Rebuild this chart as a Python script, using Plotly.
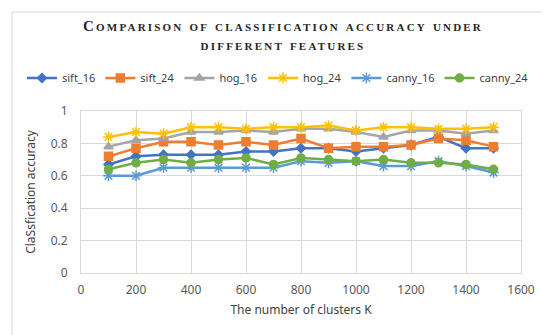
import plotly.graph_objects as go

K = [100, 200, 300, 400, 500, 600, 700, 800, 900, 1000, 1100, 1200, 1300, 1400, 1500]
sift_16 = [0.67, 0.72, 0.73, 0.73, 0.73, 0.75, 0.75, 0.77, 0.77, 0.75, 0.77, 0.79, 0.84, 0.77, 0.77]
sift_24 = [0.72, 0.77, 0.81, 0.81, 0.79, 0.81, 0.79, 0.83, 0.77, 0.78, 0.78, 0.79, 0.83, 0.82, 0.78]
hog_16 = [0.78, 0.82, 0.83, 0.87, 0.87, 0.88, 0.87, 0.89, 0.89, 0.87, 0.84, 0.88, 0.88, 0.86, 0.88]
hog_24 = [0.84, 0.87, 0.86, 0.90, 0.90, 0.89, 0.90, 0.90, 0.91, 0.88, 0.90, 0.90, 0.89, 0.89, 0.90]
canny_16 = [0.60, 0.60, 0.65, 0.65, 0.65, 0.65, 0.65, 0.69, 0.68, 0.69, 0.66, 0.66, 0.69, 0.66, 0.62]
canny_24 = [0.64, 0.68, 0.70, 0.68, 0.70, 0.71, 0.67, 0.71, 0.70, 0.69, 0.70, 0.68, 0.68, 0.67, 0.64]

series = [
    ("sift_16", sift_16, "#4472C4", "diamond", 7, "legend"),
    ("sift_24", sift_24, "#ED7D31", "square", 8, "legend"),
    ("hog_16", hog_16, "#A5A5A5", "triangle-up", 8, "legend"),
    ("hog_24", hog_24, "#FFC000", "asterisk-open", 9, "legend2"),
    ("canny_16", canny_16, "#5B9BD5", "asterisk-open", 9, "legend2"),
    ("canny_24", canny_24, "#70AD47", "circle", 8, "legend2"),
]

fig = go.Figure()
for name, vals, color, sym, size, lg in series:
    fig.add_trace(go.Scatter(
        x=K, y=vals, name=name, mode="lines+markers", legend=lg,
        line=dict(color=color, width=2.5),
        marker=dict(symbol=sym, size=size, color=color,
                    line=dict(color=color, width=1.5)),
    ))

def small_caps(text, big=15, small=11):
    out = []
    for word in text.split(" "):
        out.append(f"<span style='font-size:{big}px'>{word[0]}</span>"
                   f"<span style='font-size:{small}px'>{word[1:].upper()}</span>"
                   if word[0].isupper() else
                   f"<span style='font-size:{small}px'>{word.upper()}</span>")
    return " ".join(out)

title_text = ("<span style='letter-spacing:2.2px'>"
              + small_caps("Comparison of classification accuracy under")
              + "<br>" + small_caps("different features") + "</span>")

W, L, R, T, B = 550, 73, 37, 103, 70
PW = W - L - R
PH = 335 - T - B

def px_x(p):
    return (p - L) / PW

def px_y(p):
    return (335 - B - p) / PH

grid = "#D9D9D9"
legend_style = dict(orientation="h", xanchor="left", yanchor="middle",
                    font=dict(size=11, color="#404040"), itemwidth=30,
                    bgcolor="rgba(0,0,0,0)")
fig.update_layout(
    width=W, height=335,
    margin=dict(l=L, r=R, t=T, b=B, autoexpand=False),
    paper_bgcolor="white", plot_bgcolor="white",
    title=dict(text=title_text, x=0.5, xanchor="center", y=0.932, yanchor="top",
               font=dict(family="Liberation Serif", size=15, color="#262626", weight="bold")),
    font=dict(family="Noto Sans", size=12, color="#595959"),
    legend=dict(x=px_x(14), y=px_y(70), **legend_style),
    legend2=dict(x=px_x(14 + 241), y=px_y(70), **legend_style),
    showlegend=True,
)
fig.update_xaxes(range=[0, 1600], dtick=200, tick0=0, showgrid=True, gridcolor=grid,
                 showline=True, linecolor=grid, mirror=True, zeroline=False,
                 ticks="", ticklabelstandoff=6,
                 title=dict(text="The number of clusters K", standoff=8,
                            font=dict(size=12, color="#404040")))
fig.update_yaxes(range=[0, 1], dtick=0.2, tick0=0, showgrid=True, gridcolor=grid,
                 showline=True, linecolor=grid, mirror=True, zeroline=False,
                 ticks="", tickformat="~g", ticklabelstandoff=10,
                 title=dict(text="ClaSsfication accuracy", standoff=12,
                            font=dict(size=12, color="#404040")))

fig.add_shape(type="rect", xref="paper", yref="paper",
              x0=px_x(4), x1=px_x(544), y0=px_y(333), y1=px_y(4),
              line=dict(color="#D9D9D9", width=1), fillcolor="rgba(0,0,0,0)", layer="below")

fig.write_html("out.html")
